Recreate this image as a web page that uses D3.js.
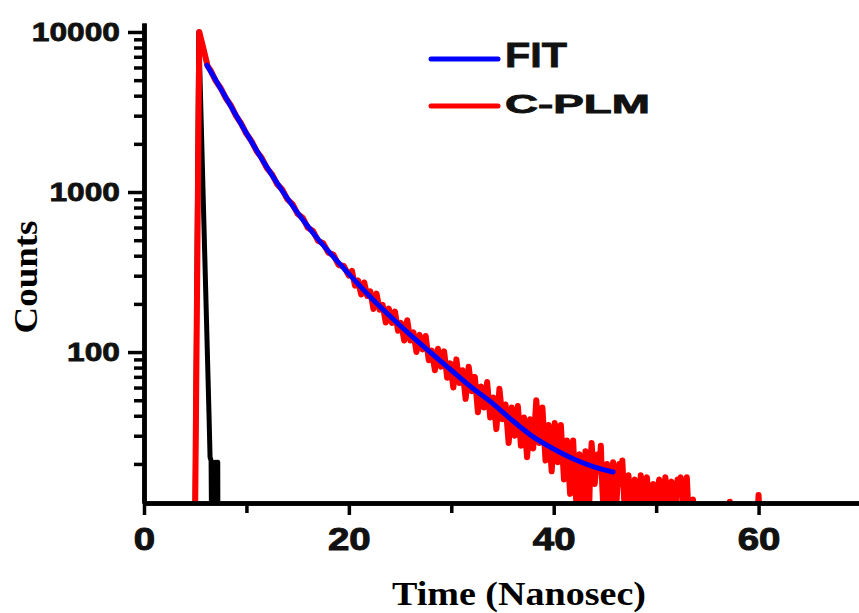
<!DOCTYPE html>
<html>
<head>
<meta charset="utf-8">
<script src="https://cdn.jsdelivr.net/npm/d3@7"></script>
<style>
  body { margin: 0; background: #fff; }
  svg { display: block; }
</style>
</head>
<body>
<svg id="chart" width="859" height="613"></svg>
<script>
// decay data: [time ns, counts]
var irf = [[4.95,5],[5.35,10000],[6.35,40],[6.45,22],[6.55,21],[6.62,5],[6.72,20.5],[6.85,5],[6.95,20.5],[7.05,5],[7.12,20.5],[7.2,20.5],[7.22,5]];

var plm = [[4.95,5],[5.4,10000],[5.8,7900],[6.2,6150],[6.5,5750],[7.0,4950],[7.5,4450],[8.0,3850],[8.5,3460],[9.0,2980],
  [9.5,2670],[10.0,2310],[10.5,2080],[11.0,1800],[11.5,1630],[12.0,1410],[12.5,1290],[13.0,1120],[13.5,1035],[14.0,900],
  [14.5,840],[15.0,730],[15.5,690],[16.0,598],[16.5,570],[17.0,495],[17.5,478],[18.0,418],[18.5,405],[19.0,350],
  [19.5,345],[20.0,300],[20.3,322],[20.6,260],[20.9,280],[21.2,229],[21.5,272],[21.8,224],[22.1,239],[22.4,186],
  [22.7,232],[23.0,184],[23.3,197],[23.6,153],[23.9,187],[24.2,152],[24.5,179],[24.8,136],[25.1,152],[25.4,118],
  [25.7,158],[26.0,118],[26.3,133],[26.6,100],[26.9,128],[27.2,104],[27.5,126],[27.8,89],[28.1,102],[28.4,77],
  [28.7,105],[29.0,81],[29.3,101],[29.6,69],[29.9,85],[30.2,60],[30.5,90],[30.8,64],[31.1,77],[31.4,51],
  [31.7,81],[32.0,57],[32.3,70],[32.6,42],[32.9,61],[33.2,45],[33.5,65],[33.8,39],[34.1,52],[34.4,33],
  [34.7,59],[35.0,38],[35.3,47],[35.6,27],[35.9,45],[36.2,30],[36.5,46],[36.8,26],[37.1,39],[37.4,22],
  [37.7,38],[38.0,25],[38.3,50],[38.6,27],[38.9,45],[39.2,21],[39.5,35],[39.8,18],[40.1,36],[40.4,20.5],
  [40.7,35],[41.0,16],[41.3,28],[41.6,13],[41.9,28],[42.05,17],[42.2,11.7],[42.35,19],[42.5,23],[42.65,14],
  [42.8,8],[42.95,16],[43.1,24],[43.25,13],[43.4,7],[43.55,18],[43.7,27],[43.85,20],[44.0,15],[44.15,19],
  [44.3,23],[44.45,18],[44.6,26],[44.75,14],[44.9,9],[45.05,15],[45.2,20],[45.35,12],[45.5,8],[45.65,15],
  [45.8,20.5],[45.95,14],[46.1,10.5],[46.25,16],[46.4,20],[46.55,15],[46.7,21],[46.85,13],[47.0,8],[47.15,13],
  [47.3,17],[47.45,12],[47.6,9],[47.75,14],[47.9,16],[48.05,11],[48.2,7],[48.35,13],[48.5,17],[48.65,13],
  [48.8,12],[48.95,15],[49.1,16.5],[49.25,12],[49.4,8],[49.55,13],[49.7,15],[49.85,12],[50.0,10],[50.15,14],
  [50.3,16],[50.45,11],[50.6,6],[50.75,13],[50.9,16.5],[51.05,14],[51.2,12],[51.35,14],[51.5,15.5],[51.65,11],
  [51.8,6],[51.95,13],[52.1,16],[52.25,15],[52.4,16.5],[52.55,12],[52.7,8],[52.85,13],[53.0,16.5],[53.15,10],
  [53.3,5],[53.45,9],[53.6,12],[53.75,8],[53.9,5],[56.9,5],[57.2,11.6],[57.5,5],[59.7,5],[60.0,12.8],[60.3,5]];

var fit = [[6.15,6200],[7,5010],[8,3880],[9,3006],[10,2333],[11,1820],[12,1430],[13,1135],[14,912],[15,741],
  [16,610],[17,507],[18,427],[20,308],[22,224],[24,168],[26,128],[28,99],[30,77],[32,60],
  [34,48],[36,37.2],[38,29.5],[40,24.8],[42,21.4],[44,19.1],[45.8,17.8]];

var xTicks = [0, 20, 40, 60];
var xMinor = [10, 30, 50];
var yTicks = [100, 1000, 10000];
var yMinor = [20,30,40,50,60,70,80,90,200,300,400,500,600,700,800,900,2000,3000,4000,5000,6000,7000,8000,9000];
var legendNames = ["FIT", "C-PLM"];
var legendColors = ["#0000ff", "#ff0000"];

var svg = d3.select("#chart");
var sans = "'Liberation Sans', Arial, sans-serif";
var serif = "'Liberation Serif', 'Times New Roman', serif";

var x = d3.scaleLinear().domain([0, 70]).range([144, 861]);
var y = d3.scaleLog().domain([11.4, 11380]).range([503, 23]);

function stretch(sel, k) {
  sel.each(function() {
    var w = this.getComputedTextLength();
    d3.select(this).attr("textLength", w * k).attr("lengthAdjust", "spacingAndGlyphs");
  });
}

svg.append("defs").append("clipPath").attr("id", "plotclip")
  .append("rect").attr("x", 144).attr("y", 0).attr("width", 717).attr("height", 503);

var line = d3.line().x(d => x(d[0])).y(d => y(d[1]));
var plot = svg.append("g").attr("clip-path", "url(#plotclip)");

plot.append("path").attr("d", line(irf))
  .attr("fill", "none").attr("stroke", "#000").attr("stroke-width", 5).attr("stroke-linejoin", "round");
plot.append("path").attr("d", line(plm))
  .attr("fill", "none").attr("stroke", "#ff0000").attr("stroke-width", 6)
  .attr("stroke-linejoin", "round").attr("stroke-linecap", "round");
plot.append("path").attr("d", line.curve(d3.curveMonotoneX)(fit))
  .attr("fill", "none").attr("stroke", "#0000ff").attr("stroke-width", 5).attr("stroke-linecap", "round");

// axes
var yMin = svg.append("g").attr("transform", "translate(144,0)")
  .call(d3.axisLeft(y).tickValues(yMinor).tickSize(10).tickSizeOuter(0).tickFormat(""));
var yAx = svg.append("g").attr("transform", "translate(144,0)")
  .call(d3.axisLeft(y).tickValues(yTicks).tickSize(16).tickSizeOuter(0).tickPadding(8).tickFormat(d3.format("d")));
var xMin = svg.append("g").attr("transform", "translate(0,503)")
  .call(d3.axisBottom(x).tickValues(xMinor).tickSize(10).tickSizeOuter(0).tickFormat(""));
var xAx = svg.append("g").attr("transform", "translate(0,503)")
  .call(d3.axisBottom(x).tickValues(xTicks).tickSize(12).tickSizeOuter(0).tickPadding(12));

svg.selectAll(".domain").attr("stroke", "#000").attr("stroke-width", 4.5);
svg.selectAll(".tick line").attr("stroke", "#000").attr("stroke-width", 3.5);

yAx.selectAll("text").attr("font-family", sans).attr("font-weight", "bold")
  .attr("font-size", 26).attr("fill", "#111").attr("stroke", "#111").attr("stroke-width", 0.8);
stretch(yAx.selectAll("text"), 1.22);
xAx.selectAll("text").attr("font-family", sans).attr("font-weight", "bold")
  .attr("font-size", 32).attr("fill", "#111").attr("stroke", "#111").attr("stroke-width", 1);
stretch(xAx.selectAll("text"), 1.2);

// axis titles
svg.append("text").attr("transform", "translate(37,277) rotate(-90)")
  .attr("text-anchor", "middle").attr("font-family", serif).attr("font-weight", "bold")
  .attr("font-size", 33).attr("textLength", 113).attr("lengthAdjust", "spacingAndGlyphs")
  .text("Counts");
svg.append("text").attr("x", 519).attr("y", 605)
  .attr("text-anchor", "middle").attr("font-family", serif).attr("font-weight", "bold")
  .attr("font-size", 33).attr("textLength", 254).attr("lengthAdjust", "spacingAndGlyphs")
  .text("Time (Nanosec)");

// legend
var legY = [59, 106], legSize = [35, 25], legLen = [62, 145], legBase = [67, 113];
legendNames.forEach(function(name, i) {
  svg.append("line").attr("x1", 431).attr("x2", 498).attr("y1", legY[i]).attr("y2", legY[i])
    .attr("stroke", legendColors[i]).attr("stroke-width", 5).attr("stroke-linecap", "round");
  svg.append("text").attr("x", 505).attr("y", legBase[i])
    .attr("font-family", sans).attr("font-weight", "bold").attr("font-size", legSize[i])
    .attr("fill", "#111").attr("stroke", "#111").attr("stroke-width", 0.8)
    .attr("textLength", legLen[i]).attr("lengthAdjust", "spacingAndGlyphs")
    .text(name);
});
</script>
</body>
</html>
